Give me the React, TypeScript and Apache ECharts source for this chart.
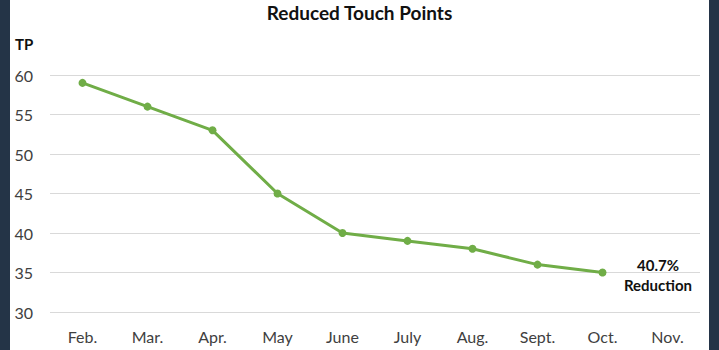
import React, { useEffect, useRef } from "react";
import * as echarts from "echarts";

const categories = ["Feb.", "Mar.", "Apr.", "May", "June", "July", "Aug.", "Sept.", "Oct.", "Nov."];
const touchPoints: (number | null)[] = [59, 56, 53, 45, 40, 39, 38, 36, 35, null];
const yTicks = { min: 30, max: 60, interval: 5 };
const titleText = "Reduced Touch Points";
const axisName = "TP";
const noteText = "40.7%\nReduction";

const FONT = "Lato, 'Open Sans', sans-serif";

export default function App() {
  const ref = useRef<HTMLDivElement>(null);
  useEffect(() => {
    document.body.style.margin = "0";
    if (!ref.current) return;
    const chart = echarts.init(ref.current, undefined, { renderer: "svg" });
    chart.setOption({
      animation: false,
      backgroundColor: "#ffffff",
      textStyle: { fontFamily: FONT },
      title: {
        text: titleText,
        left: "center",
        top: -2,
        textStyle: { fontFamily: FONT, fontSize: 19, fontWeight: "bold", color: "#111111" },
      },
      grid: { left: 40, right: 9, top: 75, bottom: 38 },
      xAxis: {
        type: "category",
        data: categories,
        boundaryGap: true,
        axisLine: { show: false },
        axisTick: { show: false },
        axisLabel: { color: "#404040", fontSize: 16, fontFamily: FONT, margin: 16 },
      },
      yAxis: {
        type: "value",
        min: yTicks.min,
        max: yTicks.max,
        interval: yTicks.interval,
        axisLine: { show: false },
        axisTick: { show: false },
        axisLabel: { color: "#404040", fontSize: 16, fontFamily: FONT, margin: 17, align: "right" },
        splitLine: { lineStyle: { color: "#d9d9d9", width: 1 } },
      },
      series: [
        {
          type: "line",
          data: touchPoints,
          lineStyle: { color: "#70ad47", width: 3 },
          itemStyle: { color: "#70ad47" },
          symbol: "circle",
          symbolSize: 8,
          connectNulls: false,
        },
      ],
      graphic: [
        {
          type: "text",
          x: 5,
          y: 44,
          style: {
            text: axisName,
            fontFamily: FONT,
            fontSize: 15,
            fontWeight: "bold",
            fill: "#111111",
            align: "left",
            verticalAlign: "middle",
          },
        },
        {
          type: "text",
          x: 648,
          y: 255,
          style: {
            text: noteText,
            fontFamily: FONT,
            fontSize: 15,
            fontWeight: "bold",
            fill: "#111111",
            align: "center",
            lineHeight: 20,
          },
        },
      ],
    });
    return () => chart.dispose();
  }, []);
  return (
    <div style={{ position: "fixed", left: 0, top: 0, width: 719, height: 350, background: "#243447" }}>
      <div ref={ref} style={{ position: "absolute", left: 10, top: 0, width: 699, height: 350 }} />
    </div>
  );
}
